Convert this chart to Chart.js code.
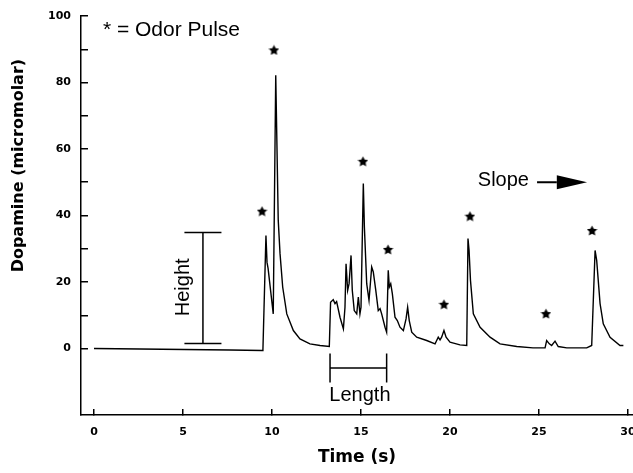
<html>
  <head>
    <script src="https://cdn.jsdelivr.net/npm/chart.js@4/dist/chart.umd.min.js"></script>
    <style>
      body { margin: 0; background: #fff; }
    </style>
  </head>
  <body>
    <canvas id="trace" width="633" height="473"></canvas>

    <script>
      // dopamine trace
      var timeS = [0, 2.58, 5.06, 7.64, 9.44, 9.49, 9.66, 9.72, 9.78, 10.07, 10.21, 10.35, 10.45, 10.6, 10.83, 11.2, 11.57, 12.13, 12.7, 13.22,
        13.29, 13.44, 13.54, 13.63, 13.82, 14.01, 14.1, 14.16, 14.25, 14.33, 14.44, 14.51, 14.62, 14.76, 14.85, 14.94, 15.0, 15.13, 15.19, 15.32,
        15.45, 15.6, 15.69, 15.83, 15.97, 16.07, 16.16, 16.35, 16.44, 16.53, 16.59, 16.67, 16.76, 16.91, 17.04, 17.19, 17.38, 17.53, 17.62, 17.71,
        17.85, 18.13, 18.69, 19.16, 19.25, 19.34, 19.44, 19.53, 19.66, 19.78, 20.0, 20.56, 20.94, 21.01, 21.07, 21.15, 21.31, 21.69, 22.25, 22.81,
        23.75, 24.66, 25.34, 25.43, 25.58, 25.71, 25.9, 26.08, 26.56, 27.68, 27.96, 28.15, 28.24, 28.43, 28.61, 28.99, 29.55, 29.74];
      var dopamine = [0, -0.15, -0.3, -0.45, -0.6, -0.4, 34.0, 25.9, 24.1, 10.4, 82.2, 38.6, 28.6, 18.5, 10.4, 5.4, 2.9, 1.4, 0.9, 0.6,
        13.9, 14.7, 13.5, 14.1, 9.4, 5.9, 12.4, 25.5, 17.5, 19.5, 28.0, 17.5, 11.4, 10.4, 15.5, 10.4, 12.4, 49.6, 36.5, 19.5,
        14.5, 24.5, 23.0, 17.5, 11.4, 12.0, 10.4, 6.4, 4.9, 23.5, 18.5, 19.5, 16.5, 9.4, 8.4, 6.4, 5.4, 8.9, 12.4, 8.4,
        4.9, 3.4, 2.4, 1.4, 2.4, 3.4, 2.6, 3.4, 5.4, 3.4, 1.9, 1.1, 0.9, 33.1, 29.5, 20.5, 10.4, 6.4, 3.4, 1.4,
        0.6, 0.2, 0.2, 2.4, 1.4, 0.9, 2.2, 0.6, 0.2, 0.2, 0.9, 29.5, 26.5, 13.5, 7.4, 3.4, 0.9, 0.9];

      // odor pulse markers (stars)
      var pulseTimes = [9.44, 10.11, 15.11, 16.52, 19.66, 21.12, 25.39, 27.98];
      var pulseLevels = [41.3, 89.8, 56.3, 29.8, 13.3, 39.8, 10.5, 35.5];

      var yTickLabels = [0, 20, 40, 60, 80, 100];

      // annotation placement, in data units
      var notes = {
        key: { x: 0.5, y: 95.8 },
        height: { x: 6.12, half: 1.04, lo: 1.5, hi: 34.9, tx: 5.0, ty: 18.4 },
        length: { x0: 13.26, x1: 16.44, y: -5.9, lo: -10.2, hi: -1.5, tx: 14.94, ty: -14.2 },
        slope: { tx: 23.0, ty: 50.6, x0: 24.89, x1: 26.0, tip: 27.7, y: 50, half: 2.1 },
        yTitle: 55
      };

      function starImage(size) {
        var c = document.createElement('canvas');
        c.width = size; c.height = size;
        var g = c.getContext('2d');
        var r = size / 2, r2 = r * 0.5;
        g.beginPath();
        for (var i = 0; i < 10; i++) {
          var a = -Math.PI / 2 + i * Math.PI / 5;
          var rr = i % 2 ? r2 : r;
          g.lineTo(r + rr * Math.cos(a), r + 0.5 + rr * Math.sin(a));
        }
        g.closePath();
        g.fillStyle = '#000';
        g.fill();
        return c;
      }

      var annotate = {
        id: 'annotate',
        afterDatasetsDraw: function (chart) {
          var ctx = chart.ctx, x = chart.scales.x, y = chart.scales.y;
          var px = function (v) { return x.getPixelForValue(v); };
          var py = function (v) { return y.getPixelForValue(v); };
          ctx.save();
          ctx.strokeStyle = '#000';
          ctx.fillStyle = '#000';
          ctx.lineWidth = 1.5;

          // key
          ctx.font = '21px "Liberation Sans", Arial, sans-serif';
          ctx.textBaseline = 'middle';
          ctx.textAlign = 'left';
          ctx.fillText('* = Odor Pulse', px(notes.key.x), py(notes.key.y));

          ctx.font = '20px "Liberation Sans", Arial, sans-serif';
          // height bracket
          var h = notes.height;
          ctx.beginPath();
          ctx.moveTo(px(h.x), py(h.lo)); ctx.lineTo(px(h.x), py(h.hi));
          ctx.moveTo(px(h.x - h.half), py(h.lo)); ctx.lineTo(px(h.x + h.half), py(h.lo));
          ctx.moveTo(px(h.x - h.half), py(h.hi)); ctx.lineTo(px(h.x + h.half), py(h.hi));
          ctx.stroke();
          ctx.save();
          ctx.translate(px(h.tx), py(h.ty));
          ctx.rotate(-Math.PI / 2);
          ctx.textAlign = 'center';
          ctx.fillText('Height', 0, 0);
          ctx.restore();

          // length bracket
          var l = notes.length;
          ctx.beginPath();
          ctx.moveTo(px(l.x0), py(l.y)); ctx.lineTo(px(l.x1), py(l.y));
          ctx.moveTo(px(l.x0), py(l.lo)); ctx.lineTo(px(l.x0), py(l.hi));
          ctx.moveTo(px(l.x1), py(l.lo)); ctx.lineTo(px(l.x1), py(l.hi));
          ctx.stroke();
          ctx.textAlign = 'center';
          ctx.fillText('Length', px(l.tx), py(l.ty));

          // slope arrow
          var s = notes.slope;
          ctx.fillText('Slope', px(s.tx), py(s.ty));
          ctx.lineWidth = 2;
          ctx.beginPath();
          ctx.moveTo(px(s.x0), py(s.y)); ctx.lineTo(px(s.x1), py(s.y));
          ctx.stroke();
          ctx.beginPath();
          ctx.moveTo(px(s.x1), py(s.y - s.half));
          ctx.lineTo(px(s.tip), py(s.y));
          ctx.lineTo(px(s.x1), py(s.y + s.half));
          ctx.closePath();
          ctx.fill();

          // y axis title
          ctx.font = 'bold 16px "DejaVu Sans", sans-serif';
          ctx.translate(18.5, py(notes.yTitle));
          ctx.rotate(-Math.PI / 2);
          ctx.textAlign = 'center';
          ctx.fillText('Dopamine (micromolar)', 0, 0);
          ctx.restore();
        }
      };

      var tickFont = { family: '"DejaVu Sans", sans-serif', size: 11, weight: 'bold' };

      // the axis ends sit right at the canvas edges, like the scanned figure
      function noEdgePadding(s) {
        s.paddingLeft = 0; s.paddingRight = 0; s.paddingTop = 0; s.paddingBottom = 0;
      }

      var chart = new Chart(document.getElementById('trace').getContext('2d'), {
        type: 'line',
        data: {
          datasets: [{
            data: timeS.map(function (t, i) { return { x: t, y: dopamine[i] }; }),
            borderColor: '#000',
            borderWidth: 1.4,
            pointRadius: 0,
            tension: 0
          }, {
            type: 'scatter',
            data: pulseTimes.map(function (t, i) { return { x: t, y: pulseLevels[i] }; }),
            pointStyle: starImage(11),
            pointRadius: 5
          }]
        },
        options: {
          responsive: false,
          animation: false,
          layout: { autoPadding: false, padding: { top: 16, left: 0, right: 0, bottom: 0 } },
          plugins: { legend: { display: false }, tooltip: { enabled: false } },
          scales: {
            x: {
              type: 'linear',
              min: -0.73,
              max: 30.28,
              afterFit: function (s) { s.height = 58; noEdgePadding(s); },
              ticks: {
                stepSize: 5,
                includeBounds: false,
                color: '#000',
                font: tickFont,
                padding: 17,
                maxRotation: 0
              },
              grid: { drawOnChartArea: false, tickLength: -6, color: '#000', lineWidth: 1.5 },
              border: { color: '#000', width: 1.5 },
              title: {
                display: true,
                text: 'Time (s)',
                color: '#000',
                font: { family: '"DejaVu Sans", sans-serif', size: 17, weight: 'bold' },
                padding: { top: 0, bottom: 5 }
              }
            },
            y: {
              min: -20,
              max: 100,
              afterFit: function (s) { s.width = 81; noEdgePadding(s); },
              ticks: {
                stepSize: 10,
                color: '#000',
                font: tickFont,
                padding: 17,
                callback: function (v) { return yTickLabels.indexOf(v) >= 0 ? v : ''; }
              },
              grid: {
                drawOnChartArea: false,
                tickLength: -7,
                lineWidth: 1.5,
                color: function (c) { return c.tick && c.tick.value < 0 ? 'rgba(0,0,0,0)' : '#000'; }
              },
              border: { color: '#000', width: 1.5 }
            }
          }
        },
        plugins: [annotate]
      });
    </script>
  </body>
</html>
